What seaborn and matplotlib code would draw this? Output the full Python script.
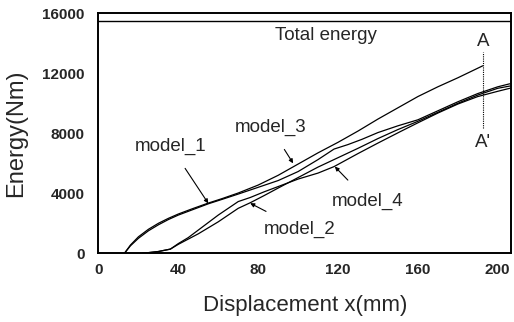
import matplotlib
matplotlib.use("Agg")
import matplotlib.pyplot as plt
import seaborn as sns
import pandas as pd

# ---- data ----
x_model_1 = [13, 16, 20, 25, 30, 35, 40, 47, 55, 62, 70, 80, 90, 100, 110, 118, 125, 132, 140, 150, 160, 170, 180, 190, 200, 206]
y_model_1 = [0, 500, 1000, 1500, 1900, 2250, 2550, 2900, 3300, 3600, 3950, 4400, 4850, 5450, 6250, 6950, 7250, 7600, 8050, 8500, 8900, 9500, 10100, 10650, 11100, 11300]

x_model_2 = [22, 30, 36, 40, 45, 50, 55, 60, 65, 70, 76, 83, 90, 100, 110, 118, 130, 140, 150, 160, 170, 180, 190, 200, 206]
y_model_2 = [0, 120, 280, 600, 950, 1300, 1700, 2100, 2550, 3000, 3370, 3850, 4350, 5050, 5750, 6250, 7000, 7650, 8250, 8800, 9400, 10000, 10550, 11000, 11150]

x_model_3 = [13, 16, 20, 25, 30, 35, 40, 47, 55, 62, 70, 80, 90, 100, 110, 120, 130, 140, 150, 160, 170, 180, 192.5]
y_model_3 = [0, 550, 1100, 1600, 2000, 2330, 2620, 2970, 3350, 3650, 4020, 4550, 5200, 5950, 6700, 7400, 8150, 8950, 9700, 10450, 11100, 11700, 12500]

x_model_4 = [22, 30, 36, 40, 45, 50, 55, 60, 65, 70, 76, 83, 90, 100, 110, 118, 130, 140, 151, 160, 170, 180, 190, 200, 206]
y_model_4 = [0, 120, 280, 650, 1050, 1550, 2050, 2550, 3000, 3450, 3720, 4100, 4450, 4950, 5350, 5780, 6650, 7350, 8100, 8700, 9350, 9950, 10450, 10800, 11000]

total_energy = 15500
section_x = 192.5
section_y = [8330, 13440]

x_ticks = [0, 40, 80, 120, 160, 200]
y_ticks = [0, 4000, 8000, 12000, 16000]

frames = []
for name, xs, ys in [("model_1", x_model_1, y_model_1), ("model_2", x_model_2, y_model_2),
                     ("model_3", x_model_3, y_model_3), ("model_4", x_model_4, y_model_4)]:
    frames.append(pd.DataFrame({"x": xs, "y": ys, "model": name}))
df = pd.concat(frames, ignore_index=True)

sns.set_style("white")
plt.rcParams["font.family"] = ["Liberation Sans", "DejaVu Sans"]

fig = plt.figure(figsize=(5.14, 3.22), dpi=100)
ax = fig.add_axes([0.1916, 0.2133, 0.8024, 0.7454])

sns.lineplot(data=df, x="x", y="y", hue="model", units="model", estimator=None,
             palette=["black"] * 4, linewidth=0.9, legend=False, ax=ax, sort=False)

ax.axhline(total_energy, color="black", linewidth=1.0)
ax.vlines(section_x, section_y[0], section_y[1], colors="black", linestyles=(0, (1, 1)), linewidth=0.8)

ax.set_xlim(0, 206.6)
ax.set_ylim(0, 16000)
ax.set_xticks(x_ticks)
ax.set_yticks(y_ticks)
ax.set_xticklabels([str(v) for v in x_ticks], fontsize=11, fontweight="bold")
ax.set_yticklabels([str(v) for v in y_ticks], fontsize=11, fontweight="bold")
ax.tick_params(axis="both", direction="in", length=4, width=1, color="black")
ax.tick_params(axis="x", pad=7)
ax.tick_params(axis="y", pad=10)

for s in ax.spines.values():
    s.set_color("black")
    s.set_linewidth(1.4)

ax.set_xlabel("Displacement x(mm)", fontsize=16, labelpad=13)
ax.set_ylabel("Energy(Nm)", fontsize=17, labelpad=11)

lab = 13.5
ax.text(114, 14550, "Total energy", fontsize=lab, ha="center", va="center")
ax.text(section_x, 14100, "A", fontsize=lab, ha="center", va="center")
ax.text(section_x, 7400, "A'", fontsize=lab, ha="center", va="center")

arrow = dict(arrowstyle="-|>", color="black", lw=0.8, mutation_scale=6, shrinkA=9, shrinkB=0)
ax.annotate("model_1", xy=(55, 3330), xytext=(36, 7150), fontsize=lab, ha="center", va="center", arrowprops=arrow)
ax.annotate("model_3", xy=(97.5, 6000), xytext=(86, 8420), fontsize=lab, ha="center", va="center", arrowprops=arrow)
ax.annotate("model_4", xy=(118.4, 5780), xytext=(135, 3490), fontsize=lab, ha="center", va="center", arrowprops=arrow)
ax.annotate("model_2", xy=(76, 3340), xytext=(101, 1620), fontsize=lab, ha="center", va="center", arrowprops=arrow)

fig.savefig("out.png", dpi=100)
